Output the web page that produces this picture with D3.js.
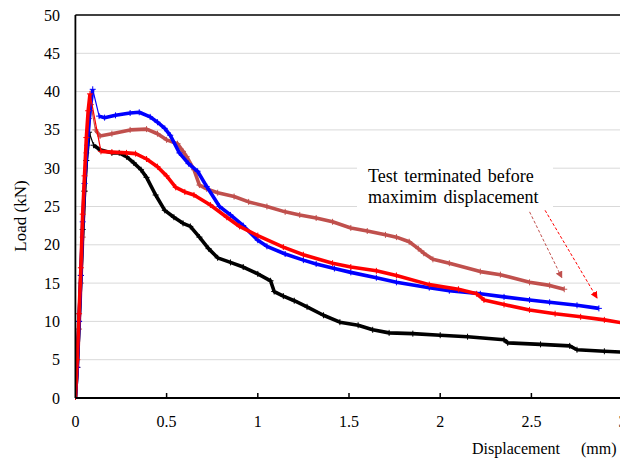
<!DOCTYPE html>
<html>
<head>
<meta charset="utf-8">
<script src="https://cdnjs.cloudflare.com/ajax/libs/d3/7.8.5/d3.min.js"></script>
<style>
  body { margin: 0; background: #fff; }
</style>
</head>
<body>
<div id="chart"></div>
<script>
// displacement (mm), load (kN)
var seriesBlue = [[0,0],[0.01,4],[0.02,10],[0.03,16],[0.04,23],[0.05,28],[0.065,33],[0.08,37.5],[0.095,40.3],
  [0.13,36.8],[0.16,36.6],[0.22,36.9],[0.3,37.2],[0.35,37.3],[0.41,36.7],[0.45,36],[0.49,35.2],[0.52,34.3],
  [0.57,32],[0.62,30.6],[0.67,29.6],[0.72,27.6],[0.79,25],[0.85,23.9],[0.92,22.5],[1.0,20.6],[1.05,19.8],
  [1.15,18.8],[1.25,18],[1.32,17.5],[1.42,16.9],[1.51,16.4],[1.65,15.7],[1.76,15.1],[1.94,14.4],[2.05,14],
  [2.22,13.6],[2.35,13.2],[2.49,12.8],[2.6,12.5],[2.75,12.1],[2.87,11.7]];
var seriesRed = [[0,0],[0.01,5],[0.02,11],[0.03,17],[0.04,24],[0.05,29],[0.06,34],[0.07,37.5],[0.08,39.7],
  [0.14,32.2],[0.2,32.1],[0.28,32],[0.33,31.9],[0.39,31.2],[0.45,30.2],[0.5,29],[0.55,27.5],[0.6,26.9],
  [0.65,26.5],[0.74,25.2],[0.83,23.6],[0.9,22.4],[1.0,21.2],[1.14,19.7],[1.25,18.7],[1.41,17.6],[1.51,17.1],
  [1.65,16.6],[1.76,16],[1.94,14.8],[2.1,14.2],[2.2,13.6],[2.24,12.8],[2.35,12.2],[2.49,11.5],[2.63,11.0],
  [2.77,10.6],[2.9,10.2],[3.0,9.8]];
var seriesBrown = [[0,0],[0.01,4],[0.02,9],[0.03,15],[0.04,21],[0.05,27],[0.06,32],[0.075,36.5],[0.085,38.3],
  [0.11,35],[0.135,34.2],[0.2,34.5],[0.3,35],[0.39,35.1],[0.45,34.5],[0.5,33.7],[0.56,33.2],[0.59,32.2],
  [0.61,31.5],[0.65,29.8],[0.68,27.8],[0.72,27.3],[0.78,26.8],[0.87,26.3],[0.95,25.6],[1.05,25],[1.15,24.3],
  [1.23,23.9],[1.32,23.5],[1.41,23],[1.51,22.2],[1.6,21.8],[1.7,21.3],[1.76,21],[1.83,20.4],[1.88,19.5],
  [1.91,18.9],[1.96,18.1],[2.05,17.6],[2.22,16.5],[2.33,16.1],[2.49,15.1],[2.6,14.7],[2.68,14.2]];
var seriesBlack = [[0,0],[0.01,4],[0.02,10],[0.03,16],[0.04,22],[0.05,27],[0.06,31],[0.075,34.7],
  [0.1,33],[0.135,32.4],[0.2,32],[0.24,32],[0.28,31.5],[0.32,30.7],[0.36,29.8],[0.39,28.8],[0.44,26.5],
  [0.49,24.5],[0.54,23.6],[0.59,22.8],[0.63,22.4],[0.68,21],[0.73,19.5],[0.78,18.3],[0.85,17.7],[0.92,17.1],
  [1.0,16.2],[1.07,15.3],[1.09,13.9],[1.14,13.3],[1.2,12.7],[1.27,11.9],[1.36,10.8],[1.45,9.9],[1.55,9.5],
  [1.63,8.9],[1.72,8.5],[1.85,8.4],[2.0,8.2],[2.15,8.0],[2.35,7.6],[2.37,7.2],[2.55,7.0],[2.71,6.8],
  [2.75,6.3],[2.9,6.1],[3.0,6.0]];

var xTicks = [0, 0.5, 1, 1.5, 2, 2.5, 3];
var yTicks = [0, 5, 10, 15, 20, 25, 30, 35, 40, 45, 50];
var noteLines = ['Test terminated before', 'maximim displacement'];
// arrows: [x1, y1, x2, y2] in data units
var arrows = [[2.49, 24.3, 2.667, 15.7], [2.575, 24.5, 2.86, 13.05]];

var W = 620, H = 460;
var FONT = '"Liberation Serif", "Times New Roman", "DejaVu Serif", serif';
var svg = d3.select('#chart').append('svg').attr('width', W).attr('height', H)
  .attr('font-family', FONT).style('font-family', FONT);

var x = d3.scaleLinear().domain([0, 3]).range([75.4, 622.6]);
var y = d3.scaleLinear().domain([0, 50]).range([398, 15]);

var defs = svg.append('defs');
defs.append('clipPath').attr('id', 'plotclip')
  .append('rect').attr('x', 75).attr('y', 10).attr('width', W - 75).attr('height', 390);

// gridlines
svg.append('g').selectAll('line').data(yTicks.filter(function(d){ return d > 0 && d < 50; }))
  .enter().append('line')
  .attr('x1', x(0)).attr('x2', W)
  .attr('y1', function(d){ return y(d); }).attr('y2', function(d){ return y(d); })
  .attr('stroke', '#d9d9d9').attr('stroke-width', 1);

// note box (hides gridlines behind the text)
svg.append('rect').attr('x', 357).attr('y', 160).attr('width', 196).attr('height', 52).attr('fill', '#fff');

var line = d3.line().x(function(d){ return x(d[0]); }).y(function(d){ return y(d[1]); });
var plot = svg.append('g').attr('clip-path', 'url(#plotclip)');

function peakIndex(data){
  var m = 0;
  data.forEach(function(d, i){ if (d[1] > data[m][1]) m = i; });
  return m;
}

function drawSeries(data, color){
  var p = peakIndex(data);
  plot.append('path').datum(data).attr('d', line)
    .attr('fill', 'none').attr('stroke', color).attr('stroke-width', 1.2);
  [data.slice(0, p + 1), data.slice(p + 1)].forEach(function(part){
    plot.append('path').datum(part).attr('d', line)
      .attr('fill', 'none').attr('stroke', color).attr('stroke-width', 3.6)
      .attr('stroke-linejoin', 'round');
  });
  plot.append('g').selectAll('path').data(data).enter().append('path')
    .attr('d', function(d){
      var cx = x(d[0]), cy = y(d[1]);
      return 'M' + (cx - 3) + ',' + cy + 'H' + (cx + 3) + 'M' + cx + ',' + (cy - 3) + 'V' + (cy + 3);
    })
    .attr('stroke', color).attr('stroke-width', 1);
}

drawSeries(seriesBrown, '#c0504d');
drawSeries(seriesBlack, '#000000');
drawSeries(seriesBlue, '#0000ff');
drawSeries(seriesRed, '#ff0000');

// arrows
var arrowColors = ['#c0504d', '#ff0000'];
arrowColors.forEach(function(c, i){
  defs.append('marker').attr('id', 'ah' + i)
    .attr('viewBox', '0 0 10 10').attr('refX', 9).attr('refY', 5)
    .attr('markerWidth', 7).attr('markerHeight', 7).attr('orient', 'auto')
    .append('path').attr('d', 'M0,0L10,5L0,10Z').attr('fill', c);
});
svg.append('g').selectAll('line').data(arrows).enter().append('line')
  .attr('x1', function(d){ return x(d[0]); }).attr('y1', function(d){ return y(d[1]); })
  .attr('x2', function(d){ return x(d[2]); }).attr('y2', function(d){ return y(d[3]); })
  .attr('stroke', function(d, i){ return arrowColors[i]; })
  .attr('stroke-width', 1).attr('stroke-dasharray', '3,2')
  .attr('marker-end', function(d, i){ return 'url(#ah' + i + ')'; });

svg.append('g').selectAll('text').data(noteLines).enter().append('text')
  .attr('x', 368).attr('y', function(d, i){ return 182 + i * 21; })
  .attr('font-size', 18).attr('word-spacing', 2)
  .text(function(d){ return d; });

// frame and axes
svg.append('line').attr('x1', x(0)).attr('x2', W).attr('y1', y(50)).attr('y2', y(50))
  .attr('stroke', '#000').attr('stroke-width', 1.5);
svg.append('line').attr('x1', x(0)).attr('x2', x(0)).attr('y1', y(50)).attr('y2', y(0))
  .attr('stroke', '#000').attr('stroke-width', 1.8);
svg.append('line').attr('x1', x(0)).attr('x2', W).attr('y1', y(0)).attr('y2', y(0))
  .attr('stroke', '#000').attr('stroke-width', 2);

svg.append('g').selectAll('line').data(xTicks.filter(function(d){ return d > 0; }))
  .enter().append('line')
  .attr('x1', function(d){ return x(d); }).attr('x2', function(d){ return x(d); })
  .attr('y1', y(0)).attr('y2', y(0) - 5)
  .attr('stroke', '#000').attr('stroke-width', 1.5);

svg.append('g').selectAll('text').data(xTicks).enter().append('text')
  .attr('x', function(d){ return x(d); }).attr('y', 427)
  .attr('text-anchor', 'middle').attr('font-size', 16)
  .text(function(d){ return d; });

svg.append('g').selectAll('text').data(yTicks).enter().append('text')
  .attr('x', 60).attr('y', function(d){ return y(d) + 5.5; })
  .attr('text-anchor', 'end').attr('font-size', 16)
  .text(function(d){ return d; });

var xt = svg.append('text').attr('x', 472).attr('y', 454).attr('font-size', 16);
xt.append('tspan').text('Displacement');
xt.append('tspan').attr('x', 581).text('(mm)');

svg.append('text').attr('transform', 'translate(26,216) rotate(-90)')
  .attr('text-anchor', 'middle').attr('font-size', 17)
  .text('Load (kN)');
</script>
</body>
</html>
